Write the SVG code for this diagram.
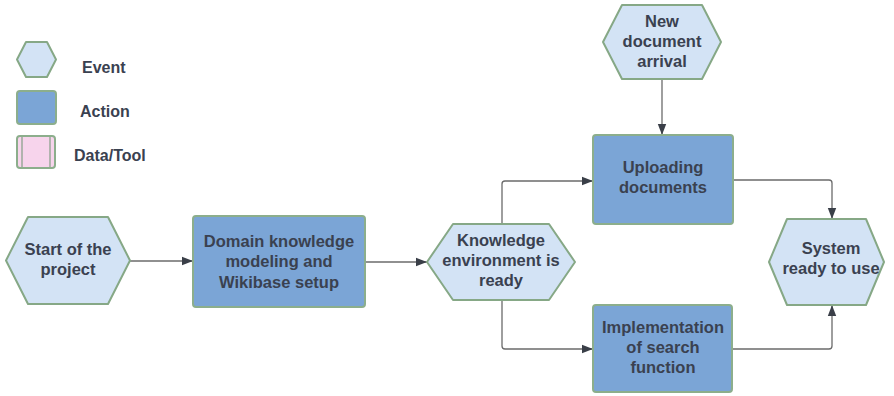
<svg xmlns="http://www.w3.org/2000/svg" width="894" height="396" viewBox="0 0 894 396">
  <style>
    .event { fill: #d3e3f5; stroke: #86a886; stroke-width: 2; stroke-linejoin: round; }
    .action { fill: #7ba5d6; stroke: #8cae8c; stroke-width: 2; }
    .data { fill: #f7d4ec; stroke: #8cae8c; stroke-width: 2; }
    .data-line { stroke: #9aa89a; stroke-width: 1.5; fill: none; }
    .label { font-family: "Liberation Sans", Arial, sans-serif; font-weight: bold; font-size: 16.5px; fill: #3a4150; text-anchor: middle; }
    .legend-label { font-family: "Liberation Sans", Arial, sans-serif; font-weight: bold; font-size: 16px; fill: #3a4150; }
    .conn { fill: none; stroke: #6b6b6b; stroke-width: 1.3; marker-end: url(#arrow); }
  </style>
  <defs>
    <marker id="arrow" markerUnits="userSpaceOnUse" markerWidth="12" markerHeight="10" viewBox="0 0 12 10" refX="11" refY="5" orient="auto">
      <path d="M0,0.8 L11,5 L0,9.2 Z" fill="#3a3f48"/>
    </marker>
  </defs>
  <rect width="894" height="396" fill="#ffffff"/>

  <!-- Legend -->
  <g id="legend">
    <polygon class="event" points="17,59.5 26,42 47,42 56,59.5 47,77 26,77"/>
    <text class="legend-label" x="82" y="73">Event</text>
    <rect class="action" x="17" y="91" width="39" height="33" rx="3"/>
    <text class="legend-label" x="80" y="117">Action</text>
    <rect class="data" x="17" y="136" width="38" height="32" rx="3"/>
    <line class="data-line" x1="22" y1="137" x2="22" y2="167"/>
    <line class="data-line" x1="50" y1="137" x2="50" y2="167"/>
    <text class="legend-label" x="74" y="161">Data/Tool</text>
  </g>

  <!-- Connectors -->
  <g id="connectors">
    <path class="conn" d="M130,261 H193"/>
    <path class="conn" d="M365,262 H427"/>
    <path class="conn" d="M502,224 V184 Q502,181 505,181 H593"/>
    <path class="conn" d="M502,300 V346 Q502,349 505,349 H593"/>
    <path class="conn" d="M662,79 V135"/>
    <path class="conn" d="M733,180 H829 Q832,180 832,183 V219"/>
    <path class="conn" d="M732,349 H829 Q832,349 832,346 V305"/>
  </g>

  <!-- Nodes -->
  <g id="start">
    <polygon class="event" points="6,260.5 28,217 108,217 130,260.5 108,304 28,304"/>
    <text class="label" x="68" y="255">Start of the</text>
    <text class="label" x="68" y="275">project</text>
  </g>

  <g id="domain-modeling">
    <rect class="action" x="193" y="216" width="172" height="91" rx="3"/>
    <text class="label" x="279" y="247">Domain knowledge</text>
    <text class="label" x="279" y="267">modeling and</text>
    <text class="label" x="279" y="288">Wikibase setup</text>
  </g>

  <g id="knowledge-ready">
    <polygon class="event" points="427,262 453,224 549,224 575,262 549,300 453,300"/>
    <text class="label" x="501" y="246">Knowledge</text>
    <text class="label" x="501" y="266">environment is</text>
    <text class="label" x="501" y="286">ready</text>
  </g>

  <g id="new-document">
    <polygon class="event" points="603,42 622,5 702,5 721,42 702,79 622,79"/>
    <text class="label" x="662" y="27">New</text>
    <text class="label" x="662" y="47">document</text>
    <text class="label" x="662" y="67">arrival</text>
  </g>

  <g id="uploading">
    <rect class="action" x="593" y="135" width="140" height="89" rx="3"/>
    <text class="label" x="663" y="173">Uploading</text>
    <text class="label" x="663" y="193">documents</text>
  </g>

  <g id="search-implementation">
    <rect class="action" x="593" y="305" width="139" height="87" rx="3"/>
    <text class="label" x="663" y="333">Implementation</text>
    <text class="label" x="663" y="353">of search</text>
    <text class="label" x="663" y="373">function</text>
  </g>

  <g id="system-ready">
    <polygon class="event" points="769,262 787,219 866,219 884,262 866,305 787,305"/>
    <text class="label" x="831" y="254">System</text>
    <text class="label" x="831" y="274">ready to use</text>
  </g>
</svg>
